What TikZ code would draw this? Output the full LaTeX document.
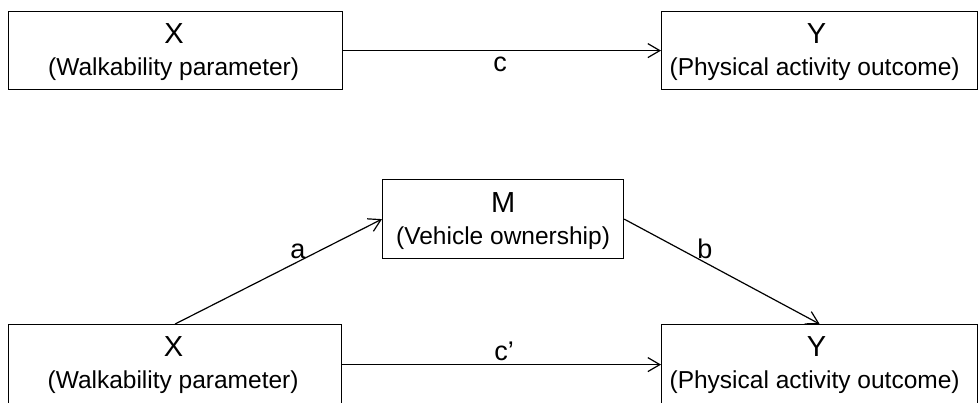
\documentclass[tikz,border=0pt]{standalone}
\usepackage{fontspec}
\setmainfont{Liberation Sans}
\usetikzlibrary{arrows.meta}
\begin{document}
\begin{tikzpicture}[x=1pt,y=-1pt,
  box/.style={draw, line width=1.2pt, inner sep=0pt, anchor=north west},
  big/.style={font=\fontsize{29}{30}\selectfont, anchor=base, inner sep=0pt},
  sub/.style={font=\fontsize{24.5}{28}\selectfont, anchor=base, inner sep=0pt},
  lab/.style={font=\fontsize{27}{30}\selectfont, anchor=base, inner sep=0pt},
  arr/.style={line width=1.2pt, -{Straight Barb[length=12pt,width=14pt]}}]
\useasboundingbox (0,0) rectangle (980,402);
\fill[white] (0,0) rectangle (980,402);
% boxes
\node[box, minimum width=334pt, minimum height=78pt] (x1) at (8,11) {};
\node[box, minimum width=316pt, minimum height=78pt] (y1) at (661,11) {};
\node[box, minimum width=241pt, minimum height=79pt] (m) at (382,179) {};
\node[box, minimum width=333pt, minimum height=80pt] (x2) at (8,324) {};
\node[box, minimum width=316pt, minimum height=80pt] (y2) at (661,324) {};
% texts
\node[big] (x1a) at ([xshift=-1.5pt,yshift=-32.5pt]x1.north) {X};
\node[sub] (x1b) at ([xshift=-2pt,yshift=-64.5pt]x1.north) {(Walkability parameter)};
\node[big] (y1a) at ([xshift=-3pt,yshift=-32.5pt]y1.north) {Y};
\node[sub] (y1b) at ([xshift=-5pt,yshift=-64.5pt]y1.north) {(Physical activity outcome)};
\node[big] (ma) at ([yshift=-33.5pt]m.north) {M};
\node[sub] (mb) at ([yshift=-65.5pt]m.north) {(Vehicle ownership)};
\node[big] (x2a) at ([xshift=-1.5pt,yshift=-32.5pt]x2.north) {X};
\node[sub] (x2b) at ([xshift=-2pt,yshift=-64.5pt]x2.north) {(Walkability parameter)};
\node[big] (y2a) at ([xshift=-3pt,yshift=-32.5pt]y2.north) {Y};
\node[sub] (y2b) at ([xshift=-5pt,yshift=-64.5pt]y2.north) {(Physical activity outcome)};
% arrows
\draw[arr] (x1.east) -- (y1.west);
\draw[arr] (x2.north) -- (m.west);
\draw[arr] (m.east) -- (y2.north);
\draw[arr] (x2.east) -- (y2.west);
% labels
\node[lab] (lc) at (500,71) {c};
\node[lab] (la) at (298,258) {a};
\node[lab] (lb) at (705,258) {b};
\node[lab] (lcp) at (504,360) {c’};
\end{tikzpicture}
\end{document}
